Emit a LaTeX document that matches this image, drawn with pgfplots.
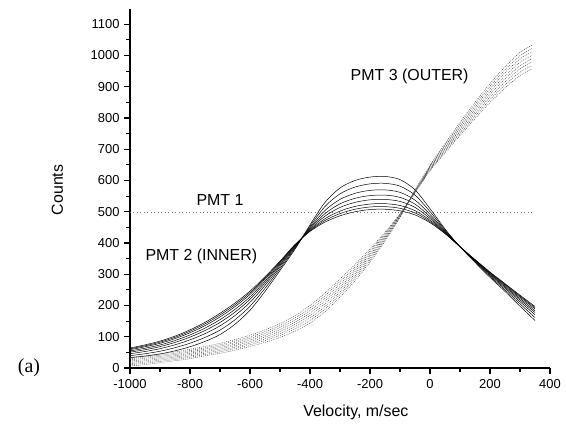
\documentclass[border=0pt]{standalone}
\usepackage{pgfplots}
\usepackage{pgfplotstable}
\pgfplotsset{compat=1.18}
\usepackage{fontspec}
\setmainfont{Liberation Sans}
\newfontfamily\serifa{Liberation Serif}

\pgfplotstableread{
x c0 c1 c2 c3 c4 c5 c6 c7
-1000 64 61.5 58.7 54.7 50.7 45.7 39.5 33
-950 74 71.1 67.9 63.2 58.5 52.8 45.6 38
-900 86 82.7 79.0 73.7 68.4 61.8 53.6 45
-850 102 98.2 94.0 87.9 81.8 74.3 64.9 55
-800 122 117.7 112.8 105.8 98.8 90.1 79.3 68
-750 146 141.1 135.6 127.7 119.8 110.0 97.8 85
-700 175 169.6 163.4 154.6 145.8 134.9 121.3 107
-650 208 202.6 196.4 187.6 178.8 167.9 154.3 140
-600 246 241.1 235.6 227.7 219.8 210.0 197.8 185
-550 292 288.2 284.0 277.9 271.8 264.3 254.9 245
-500 342 339.6 336.9 333.0 329.1 324.3 318.3 312
-450 395 393.8 392.4 390.5 388.5 386.1 383.1 380
-400 437 438.7 440.6 443.3 446.0 449.4 453.6 458
-350 467 472.0 477.7 485.9 494.1 504.2 516.8 530
-300 487 494.1 502.1 513.7 525.3 539.5 557.3 576
-250 500 508 517 530 543 559 579 600
-200 507 515.3 524.7 538.2 551.7 568.4 589.2 611
-150 508 516.4 525.9 539.5 553.2 570.0 591.0 613
-100 503 511 520 533 546 562 582 603
-50 490 496.4 503.6 514 524.4 537.2 553.2 570
0 465 468.6 472.7 478.5 484.4 491.6 500.6 510
50 430 431.2 432.6 434.5 436.5 438.9 441.9 445
100 388 388 388 388 388 388 388 388
150 347 346.3 345.5 344.3 343.1 341.7 339.9 338
200 307 305.6 304.1 301.9 299.7 297.0 293.6 290
250 270 268 265.7 262.5 259.2 255.2 250.2 245
300 233 230.2 227.0 222.5 217.9 212.3 205.3 198
350 197 193.4 189.3 183.5 177.6 170.4 161.4 152
}\pmttwo

\pgfplotstableread{
x c0 c1 c2 c3 c4 c5 c6 c7
-1000 6 10.1 14 18 22 26 29.9 34
-950 11 15.1 19 23 27 31 34.9 39
-900 17 21.1 25 29 33 37 40.9 45
-850 23 27.1 31 35 39 43 46.9 51
-800 30 34.3 38.5 42.9 47.1 51.5 55.7 60
-750 39 43.3 47.5 51.9 56.1 60.5 64.7 69
-700 47 51.6 56.1 60.8 65.2 69.9 74.4 79
-650 57 61.9 66.7 71.6 76.4 81.3 86.1 91
-600 69 74.2 79.3 84.5 89.5 94.7 99.8 105
-550 82 87.8 93.4 99.2 104.8 110.6 116.2 122
-500 98 104.4 110.5 116.9 123.1 129.5 135.6 142
-450 118 125.2 132.2 139.5 146.5 153.8 160.8 168
-400 144 152.1 160 168.1 175.9 184 191.9 200
-350 180 188.7 197.1 205.8 214.2 222.9 231.3 240
-300 227 235.4 243.5 251.9 260.1 268.5 276.6 285
-250 279 286.5 293.8 301.4 308.6 316.2 323.5 331
-200 339 345.1 351 357.1 362.9 369 374.9 381
-150 406 410.1 414 418 422 426 429.9 434
-100 482 483.7 485.4 487.2 488.8 490.6 492.3 494
-50 569 567.8 566.7 565.6 564.4 563.3 562.2 561
0 649 646.4 643.9 641.3 638.7 636.1 633.6 631
50 718 713.7 709.5 705.1 700.9 696.5 692.3 688
100 786 779.9 774 767.9 762.1 756 750.1 744
150 850 842.5 835.2 827.6 820.4 812.8 805.5 798
200 910 901.3 892.9 884.2 875.8 867.1 858.7 850
250 964 954.1 944.6 934.8 925.2 915.4 905.9 896
300 1010 999.3 988.9 978.2 967.8 957.1 946.7 936
340 1033 1022 1011.3 1000.3 989.7 978.7 968 957
}\pmtthree

\pgfplotstableread{
x y
-1000 497
340 497
}\pmtone

\begin{document}
\begin{tikzpicture}
\path[use as bounding box] (-130bp,-61bp) rectangle (436bp,368bp);
\begin{axis}[
  scale only axis,
  width=420bp, height=359.375bp,
  xmin=-1000, xmax=400, ymin=0, ymax=1150,
  axis x line=bottom, axis y line=left,
  axis line style={-, line width=1.3pt},
  xtick={-1000,-800,...,400},
  ytick={0,100,...,1100},
  minor x tick num=1, minor y tick num=1,
  tick align=outside,
  major tick length=6bp, minor tick length=3.5bp,
  tick style={black, line width=1.1pt},
  /pgf/number format/assume math mode=true,
  /pgf/number format/set thousands separator={},
  ticklabel style={font=\fontsize{13}{13}\selectfont},
  xticklabel style={yshift=-2bp},
  yticklabel style={xshift=-1bp},
  clip=false,
]
\pgfplotsinvokeforeach{0,...,7}{
  \addplot[black, line width=0.5pt, smooth, no markers] table[x=x, y=c#1] {\pmttwo};
}
\pgfplotsinvokeforeach{0,...,7}{
  \addplot[black!75, line width=0.5pt, smooth, no markers, dash pattern=on 0.8pt off 1.2pt] table[x=x, y=c#1] {\pmtthree};
}
\addplot[black!55, line width=0.5pt, no markers, dash pattern=on 1pt off 2.5pt] table[x=x, y=y] {\pmtone};

\node[anchor=west, font=\fontsize{16}{17}\selectfont] at (axis cs:-790,538) {PMT 1};
\node[anchor=west, font=\fontsize{16}{17}\selectfont] at (axis cs:-960,357) {PMT 2 (INNER)};
\node[anchor=east, font=\fontsize{16}{17}\selectfont] at (axis cs:140,932) {PMT 3 (OUTER)};
\node[font=\fontsize{16}{17}\selectfont] at (axis cs:-247,-140.8) {Velocity, m/sec};
\node[rotate=90, font=\fontsize{16}{17}\selectfont] at (axis cs:-1241.7,570) {Counts};
\node[font=\serifa\fontsize{20}{21}\selectfont] at (axis cs:-1336.7,0) {(a)};
\end{axis}
\end{tikzpicture}
\end{document}
